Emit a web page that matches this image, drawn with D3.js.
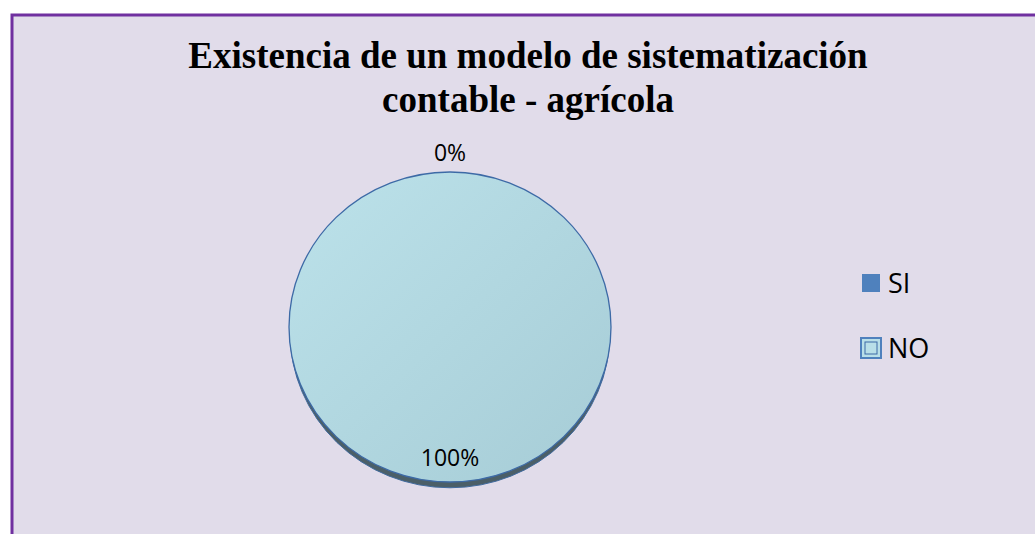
<!DOCTYPE html>
<meta charset="utf-8">
<style>
  body { margin: 0; background: #ffffff; }
  svg { display: block; }
</style>
<body>
<div id="chart"></div>
<script src="https://d3js.org/d3.v7.min.js"></script>
<script>
  const categories = ["SI", "NO"];
  const values = [0, 100];
  const titleLines = ["Existencia de un modelo de sistematización", "contable - agrícola"];

  const width = 1035, height = 534;
  const cx = 450, cy = 327, rx = 161, ry = 155;

  const svg = d3.select("#chart").append("svg")
    .attr("width", width)
    .attr("height", height);

  const defs = svg.append("defs");
  const grad = defs.append("linearGradient")
    .attr("id", "pieFill")
    .attr("x1", "0").attr("y1", "0").attr("x2", "1").attr("y2", "1");
  grad.append("stop").attr("offset", "0%").attr("stop-color", "#bce2ea");
  grad.append("stop").attr("offset", "100%").attr("stop-color", "#a6ccd6");

  // frame
  svg.append("rect")
    .attr("x", 12).attr("y", 15)
    .attr("width", width + 20).attr("height", height + 20)
    .attr("fill", "#e1dcea")
    .attr("stroke", "#7030a0")
    .attr("stroke-width", 3);

  // title
  svg.append("text")
    .attr("text-anchor", "middle")
    .attr("font-family", "Liberation Serif")
    .attr("font-weight", "bold")
    .attr("font-size", 37)
    .attr("fill", "#000")
    .selectAll("tspan")
    .data(titleLines)
    .join("tspan")
    .attr("x", 528)
    .attr("y", (d, i) => 68 + i * 44)
    .text(d => d);

  const color = d3.scaleOrdinal().domain(categories).range(["#4f81bd", "url(#pieFill)"]);

  const pie = d3.pie().value(d => d.value).sort(null);
  const arcs = pie(categories.map((c, i) => ({ label: c, value: values[i] })));

  const arc = d3.arc().innerRadius(0).outerRadius(rx);
  const g = svg.append("g")
    .attr("transform", `translate(${cx},${cy}) scale(1,${ry / rx})`);

  // 3d edge shadow
  g.append("ellipse")
    .attr("cx", 0).attr("cy", 6)
    .attr("rx", rx - 1).attr("ry", rx)
    .attr("fill", "#4b5f68")
    .attr("stroke", "#3f6a9e")
    .attr("stroke-width", 1);

  g.selectAll("path")
    .data(arcs)
    .join("path")
    .attr("d", arc)
    .attr("fill", d => color(d.data.label))
    .attr("stroke", "#3d6aa6")
    .attr("stroke-width", 1.3);

  const total = d3.sum(values);
  const fmt = v => Math.round(v / total * 100) + "%";

  // data labels
  const labelPos = d => {
    const a = (d.startAngle + d.endAngle) / 2;
    const r = d.value === 0 ? rx + 20 : rx * 0.845;
    return [cx + r * Math.sin(a), cy - r * Math.cos(a) * ry / rx];
  };
  svg.selectAll("text.lbl")
    .data(arcs)
    .join("text")
    .attr("class", "lbl")
    .attr("x", d => labelPos(d)[0])
    .attr("y", d => labelPos(d)[1])
    .attr("dy", "0.35em")
    .attr("text-anchor", "middle")
    .attr("font-family", "Open Sans")
    .attr("font-size", 23)
    .attr("fill", "#000")
    .text(d => fmt(d.value));

  // legend
  const legend = svg.append("g").attr("transform", "translate(862,274)");
  const item = legend.selectAll("g")
    .data(categories)
    .join("g")
    .attr("transform", (d, i) => `translate(0,${i * 65})`);
  item.append("rect")
    .attr("x", (d, i) => i ? -1 : 0)
    .attr("y", (d, i) => i ? -1 : 0)
    .attr("width", (d, i) => i ? 20 : 18)
    .attr("height", (d, i) => i ? 20 : 18)
    .attr("fill", (d, i) => i ? "#b9dfe8" : "#4f81bd")
    .attr("stroke", (d, i) => i ? "#4f81bd" : "none")
    .attr("stroke-width", 2);
  item.filter((d, i) => i > 0).append("rect")
    .attr("x", 3).attr("y", 3)
    .attr("width", 12).attr("height", 12)
    .attr("fill", "none")
    .attr("stroke", "#3d6aa6")
    .attr("stroke-width", 1);
  item.append("text")
    .attr("x", 26).attr("y", 19)
    .attr("font-family", "Open Sans")
    .attr("font-size", 27)
    .attr("fill", "#000")
    .text(d => d);
</script>
</body>
